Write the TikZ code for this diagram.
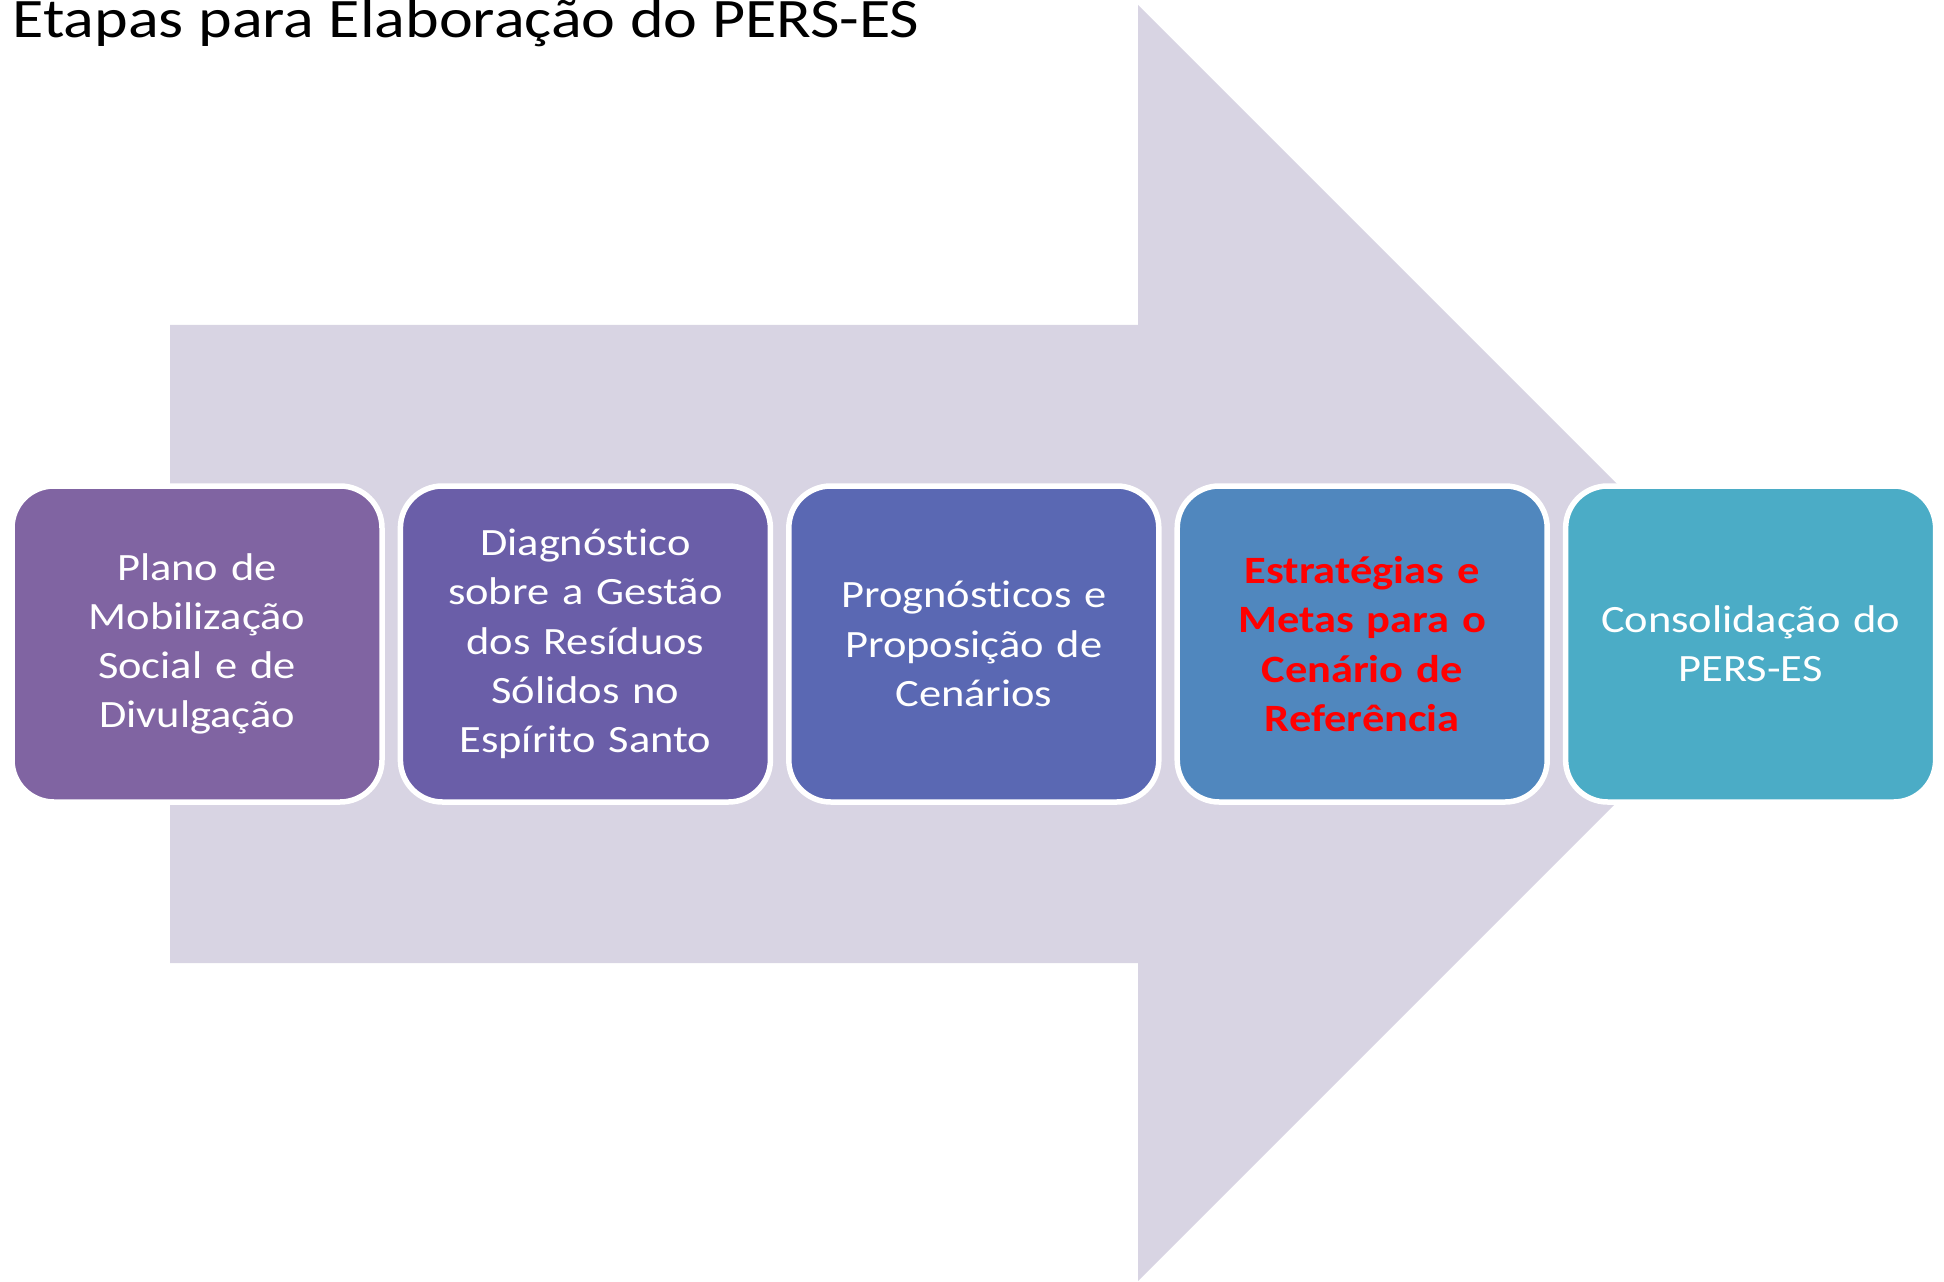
\documentclass[tikz,border=0pt]{standalone}
\usepackage{fontspec}
\setmainfont[FakeStretch=1.15, Ligatures=NoCommon]{Carlito}
\usetikzlibrary{positioning}

\definecolor{setafundo}{RGB}{216,212,227}
\definecolor{etapaA}{RGB}{128,100,162}
\definecolor{etapaB}{RGB}{106,94,168}
\definecolor{etapaC}{RGB}{90,104,179}
\definecolor{etapaD}{RGB}{80,135,190}
\definecolor{etapaE}{RGB}{75,172,198}

\tikzset{
  etapa/.style={rectangle, rounded corners=0.42cm, draw=white, line width=0.055cm,
    minimum width=3.70cm, minimum height=3.16cm, inner sep=0pt, outer sep=0pt,
    align=center, text width=3.5cm, text=white, font=\fontsize{11}{14}\selectfont}
}

\begin{document}
\begin{tikzpicture}

\useasboundingbox (0,0) rectangle (19.44,12.81);

% seta grande ao fundo
\fill [setafundo] (1.70,9.56) -- (11.38,9.56) -- (11.38,12.76) -- (17.76,6.38)
  -- (11.38,0) -- (11.38,3.18) -- (1.70,3.18) -- cycle;

\node [anchor=base west, inner sep=0pt, font=\fontsize{15.85}{19}\selectfont] (titulo)
  at (0.12,12.43) {Etapas para Elaboração do PERS-ES};

% etapas
\node [etapa, fill=etapaA] (plano) at (1.97,6.37) {Plano de\\Mobilização\\Social e de\\Divulgação};
\node [etapa, fill=etapaB, right=0.184cm of plano] (diagnostico) {Diagnóstico\\sobre a Gestão\\dos Resíduos\\Sólidos no\\Espírito Santo};
\node [etapa, fill=etapaC, right=0.184cm of diagnostico] (prognostico) {Prognósticos e\\Proposição de\\Cenários};
\node [etapa, fill=etapaD, right=0.184cm of prognostico, text=red,
  font=\fontsize{11}{14}\selectfont\bfseries] (estrategias) {Estratégias e\\Metas para o\\Cenário de\\Referência};
\node [etapa, fill=etapaE, right=0.184cm of estrategias] (consolidacao) {Consolidação do\\PERS-ES};

\end{tikzpicture}
\end{document}
